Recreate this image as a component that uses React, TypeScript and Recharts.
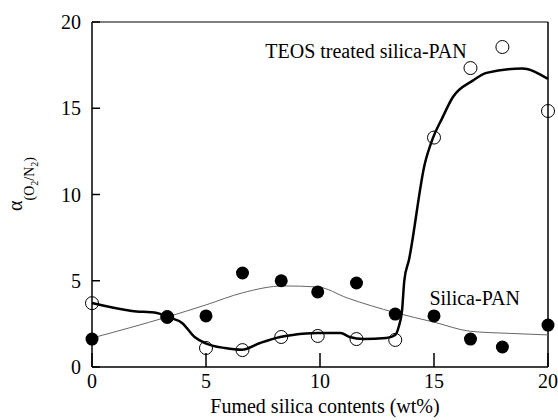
import React from "react"
import { ComposedChart, Line, Scatter, XAxis, YAxis, ReferenceLine, ReferenceDot } from "recharts"

// silica contents (wt%) of the measured membranes
const silicaContents = [0, 3.3, 5, 6.6, 8.3, 9.9, 11.6, 13.3, 15, 16.6, 18, 20]
// O2/N2 selectivity
const teosValues = [3.7, 2.9, 1.1, 0.98, 1.74, 1.8, 1.62, 1.57, 13.3, 17.33, 18.55, 14.84]
const silicaPanValues = [1.62, 2.9, 2.96, 5.45, 5.0, 4.35, 4.87, 3.07, 2.96, 1.62, 1.16, 2.43]

// hand-drawn trend curves from the figure
const teosCurveX = [0, 1.75, 2.85, 3.33, 3.95, 4.5, 4.96, 5.83, 6.58, 7.37, 8.25, 8.8, 9.9, 10.9, 11.3, 11.9, 12.9, 13.3, 13.45, 13.6, 13.7, 13.9, 14.6, 14.96, 15.35, 15.83, 16.7, 17.3, 18.86, 20]
const teosCurveY = [3.71, 3.25, 3.13, 2.9, 2.55, 1.74, 1.39, 1.1, 1.0, 1.39, 1.74, 1.86, 1.97, 1.97, 1.74, 1.62, 1.68, 1.86, 2.32, 3.3, 5.04, 6.2, 11.8, 13.3, 14.4, 15.65, 16.6, 17.05, 17.3, 16.7]
const panCurveX = [0, 3.3, 5, 6.6, 8.4, 9.9, 11.2, 13.3, 15, 16.6, 18.3, 20]
const panCurveY = [1.68, 2.9, 3.6, 4.3, 4.7, 4.64, 4.0, 3.15, 2.6, 2.07, 1.95, 1.86]

const ticks = [0, 5, 10, 15, 20]

const teosPoints = silicaContents.map((x, i) => ({ x, y: teosValues[i] }))
const panPoints = silicaContents.map((x, i) => ({ x, y: silicaPanValues[i] }))
const teosCurve = teosCurveX.map((x, i) => ({ x, y: teosCurveY[i] }))
const panCurve = panCurveX.map((x, i) => ({ x, y: panCurveY[i] }))

const FONT = "'Liberation Serif', 'Times New Roman', serif"

const XTick = (props: any) => {
  const { x, y, payload } = props
  return (
    <g>
      <line x1={x} y1={y} x2={x} y2={y - 14} stroke="#000" strokeWidth={1.5} />
      <text x={x} y={y + 21} textAnchor="middle" fontSize={20} fontFamily={FONT} fill="#000">
        {payload.value}
      </text>
    </g>
  )
}

const YTick = (props: any) => {
  const { x, y, payload } = props
  return (
    <g>
      <line x1={x} y1={y} x2={x + 8} y2={y} stroke="#000" strokeWidth={1.5} />
      <text x={x - 11} y={y + 7} textAnchor="end" fontSize={20} fontFamily={FONT} fill="#000">
        {payload.value}
      </text>
    </g>
  )
}

const OpenDot = (props: any) => (
  <circle cx={props.cx} cy={props.cy} r={6.5} fill="none" stroke="#000" strokeWidth={1} />
)
const FilledDot = (props: any) => <circle cx={props.cx} cy={props.cy} r={6.5} fill="#000" />

const annotation = (text: string) => (p: any) => (
  <text x={p.viewBox.x} y={p.viewBox.y} fontSize={20} fontFamily={FONT} fill="#000">
    {text}
  </text>
)

export default function App() {
  return (
    <div style={{ position: "absolute", left: 0, top: 0, background: "#fff" }}>
      <ComposedChart width={558} height={420} margin={{ top: 22, right: 10, bottom: 8, left: 0 }}>
        <XAxis
          type="number"
          dataKey="x"
          domain={[0, 20]}
          ticks={ticks}
          height={45}
          tickSize={0}
          tickMargin={0}
          tickLine={false}
          tick={<XTick />}
          axisLine={{ stroke: "#000", strokeWidth: 1.5 }}
          label={{
            content: (p: any) => (
              <text
                x={p.viewBox.x + p.viewBox.width / 2 + 5}
                y={413}
                textAnchor="middle"
                fontSize={20}
                fontFamily={FONT}
                fill="#000"
              >
                Fumed silica contents (wt%)
              </text>
            ),
          }}
        />
        <YAxis
          type="number"
          dataKey="y"
          domain={[0, 20]}
          ticks={ticks}
          width={92}
          tickSize={0}
          tickMargin={0}
          tickLine={false}
          tick={<YTick />}
          axisLine={{ stroke: "#000", strokeWidth: 1.5 }}
          label={{
            content: () => (
              <text
                x={22}
                y={184}
                transform="rotate(-90, 22, 184)"
                textAnchor="middle"
                fontFamily={FONT}
                fill="#000"
              >
                <tspan fontSize={20}>α</tspan>
                <tspan fontSize={14} dy={12}>(O</tspan>
                <tspan fontSize={10} dy={4}>2</tspan>
                <tspan fontSize={14} dy={-4}>/N</tspan>
                <tspan fontSize={10} dy={4}>2</tspan>
                <tspan fontSize={14} dy={-4}>)</tspan>
              </text>
            ),
          }}
        />
        <ReferenceLine y={20} stroke="#000" strokeWidth={1} />
        <ReferenceLine x={20} stroke="#000" strokeWidth={1.5} />
        <Line
          data={panCurve}
          dataKey="y"
          type="monotone"
          stroke="#666"
          strokeWidth={1}
          dot={false}
          isAnimationActive={false}
        />
        <Line
          data={teosCurve}
          dataKey="y"
          type="monotone"
          stroke="#000"
          strokeWidth={2.5}
          dot={false}
          isAnimationActive={false}
        />
        <Scatter data={panPoints} dataKey="y" shape={<FilledDot />} isAnimationActive={false} />
        <Scatter data={teosPoints} dataKey="y" shape={<OpenDot />} isAnimationActive={false} />
        <ReferenceDot x={7.6} y={17.9} r={0} fill="none" stroke="none" label={{ content: annotation("TEOS treated silica-PAN") }} />
        <ReferenceDot x={14.8} y={3.6} r={0} fill="none" stroke="none" label={{ content: annotation("Silica-PAN") }} />
      </ComposedChart>
    </div>
  )
}
